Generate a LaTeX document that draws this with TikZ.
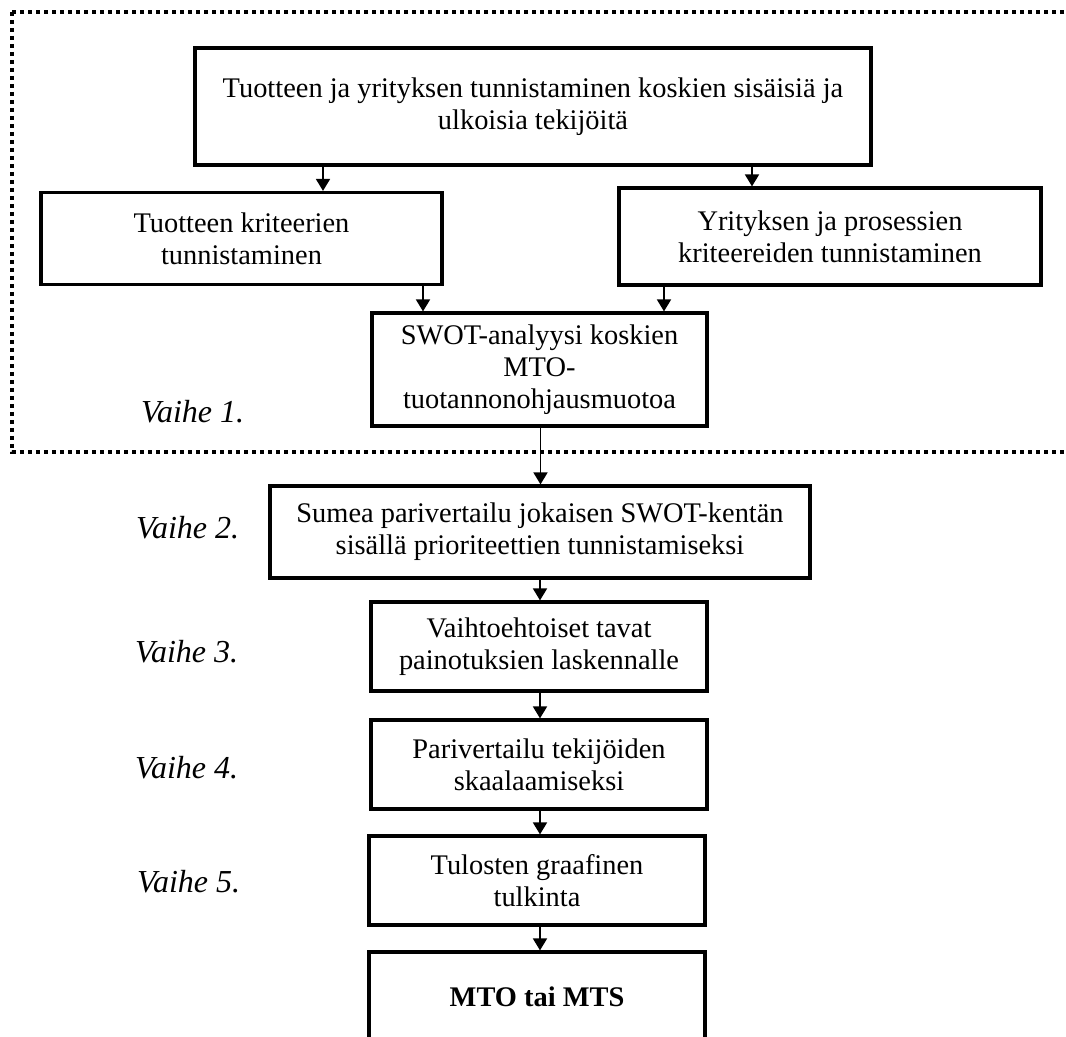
\documentclass[tikz,border=0pt]{standalone}
\usepackage{fontspec}
\setmainfont{Liberation Serif}
\usetikzlibrary{arrows.meta,calc}

\tikzset{
  stepbox/.style={draw, line width=1.6pt, align=center, inner sep=0pt,
    font=\fontsize{14.2}{16}\selectfont},
  flow/.style={line width=0.9pt, -{Triangle[width=7pt,length=6pt]}},
  phase/.style={anchor=west, font=\fontsize{16}{17}\selectfont\itshape},
  frame/.style={line width=2pt, dash pattern=on 2pt off 2pt},
}

\begin{document}
\begin{tikzpicture}[x=0.5pt,y=-0.5pt] % one unit = one pixel of the sketch
\useasboundingbox (0,0) rectangle (1066,1037);
\clip (0,0) rectangle (1066,1037);

\def\bw{168pt} % width of the column boxes
\def\bh{44.5pt} % height of the column boxes

% phase 1 frame (runs off the right edge)
\draw[frame] (12,12) rectangle (1090,452);

% phase 1
\node[stepbox, minimum width=338pt, minimum height=58.5pt] (ident) at (533,106.5)
  {Tuotteen ja yrityksen tunnistaminen koskien sisäisiä ja\\ulkoisia tekijöitä};
\node[stepbox, minimum width=200.5pt, minimum height=46pt] (prod) at (241.5,238.5)
  {Tuotteen kriteerien\\tunnistaminen};
\node[stepbox, minimum width=211pt, minimum height=48.5pt] (firm) at (830,236.5)
  {Yrityksen ja prosessien\\kriteereiden tunnistaminen};
\node[stepbox, minimum width=167.5pt, minimum height=56.5pt] (swot) at (539.5,369.5)
  {SWOT-analyysi koskien\\MTO-\\tuotannonohjausmuotoa};

% phases 2-5 and the result
\node[stepbox, minimum width=270pt, minimum height=46pt] (fuzzy) at (540,532)
  {Sumea parivertailu jokaisen SWOT-kentän\\sisällä prioriteettien tunnistamiseksi};
\node[stepbox, minimum width=\bw, minimum height=\bh] (weight) at (539,646.5)
  {Vaihtoehtoiset tavat\\painotuksien laskennalle};
\node[stepbox, minimum width=\bw, minimum height=\bh] (scale) at (539,764.5)
  {Parivertailu tekijöiden\\skaalaamiseksi};
\node[stepbox, minimum width=\bw, minimum height=\bh] (graph) at (537,880.5)
  {Tulosten graafinen\\tulkinta};
\node[stepbox, minimum width=\bw, minimum height=\bh, font=\fontsize{14.2}{16}\selectfont\bfseries]
  (result) at (537,996.5) {MTO tai MTS};

% phase labels
\node[phase] (ph1) at (134,412) {Vaihe 1.};
\node[phase] (ph2) at (129,528) {Vaihe 2.};
\node[phase] (ph3) at (128,652) {Vaihe 3.};
\node[phase] (ph4) at (128,768) {Vaihe 4.};
\node[phase] (ph5) at (130,882) {Vaihe 5.};

% connectors
\draw[flow] ([xshift=-105pt]ident.south) -- ([xshift=-105pt]ident.south |- prod.north);
\draw[flow] ([xshift=109.5pt]ident.south) -- ([xshift=109.5pt]ident.south |- firm.north);
\draw[flow] ([xshift=90.75pt]prod.south) -- ([xshift=90.75pt]prod.south |- swot.north);
\draw[flow] ([xshift=-83pt]firm.south) -- ([xshift=-83pt]firm.south |- swot.north);
\draw[flow] ([xshift=0.5pt]swot.south) -- ([xshift=0.5pt]swot.south |- fuzzy.north);
\draw[flow] (fuzzy.south) -- (fuzzy.south |- weight.north);
\draw[flow] ([xshift=0.5pt]weight.south) -- ([xshift=0.5pt]weight.south |- scale.north);
\draw[flow] ([xshift=0.5pt]scale.south) -- ([xshift=0.5pt]scale.south |- graph.north);
\draw[flow] ([xshift=1.5pt]graph.south) -- ([xshift=1.5pt]graph.south |- result.north);
\end{tikzpicture}
\end{document}
